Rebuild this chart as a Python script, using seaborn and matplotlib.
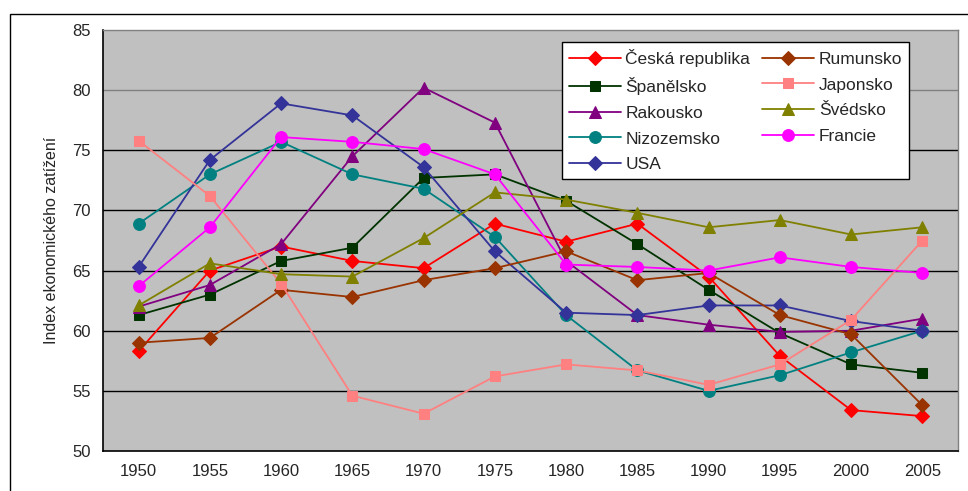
import pandas as pd
import matplotlib.pyplot as plt
import matplotlib.patches as mpatches
import seaborn as sns

sns.set_style("white")
plt.rcParams["font.family"] = ["Liberation Sans", "DejaVu Sans"]

YEARS = ["1950", "1955", "1960", "1965", "1970", "1975", "1980", "1985", "1990", "1995", "2000", "2005"]

cesko = [58.3, 65.0, 67.0, 65.8, 65.2, 68.9, 67.4, 68.9, 64.5, 57.9, 53.4, 52.9]
rumunsko = [59.0, 59.4, 63.4, 62.8, 64.2, 65.2, 66.6, 64.2, 64.8, 61.3, 59.7, 53.8]
spanelsko = [61.3, 63.0, 65.8, 66.9, 72.7, 73.0, 70.8, 67.2, 63.4, 59.8, 57.2, 56.5]
japonsko = [75.8, 71.2, 63.9, 54.6, 53.1, 56.2, 57.2, 56.7, 55.5, 57.2, 60.9, 67.5]
rakousko = [62.0, 63.8, 67.2, 74.5, 80.2, 77.3, 65.8, 61.3, 60.5, 59.9, 60.0, 61.0]
svedsko = [62.1, 65.6, 64.7, 64.5, 67.7, 71.5, 70.9, 69.8, 68.6, 69.2, 68.0, 68.6]
nizozemsko = [68.9, 73.0, 75.7, 73.0, 71.8, 67.8, 61.3, 56.7, 55.0, 56.3, 58.2, 60.0]
francie = [63.7, 68.6, 76.1, 75.7, 75.1, 73.0, 65.5, 65.3, 65.0, 66.1, 65.3, 64.8]
usa = [65.3, 74.2, 78.9, 77.9, 73.6, 66.6, 61.5, 61.3, 62.1, 62.1, 60.8, 60.0]

SERIES = {
    "Česká republika": cesko,
    "Rumunsko": rumunsko,
    "Španělsko": spanelsko,
    "Japonsko": japonsko,
    "Rakousko": rakousko,
    "Švédsko": svedsko,
    "Nizozemsko": nizozemsko,
    "Francie": francie,
    "USA": usa,
}

# drawing order and legend order (matplotlib fills legend columns top-down)
DRAW_ORDER = ["Česká republika", "Španělsko", "Rakousko", "Nizozemsko", "USA",
              "Rumunsko", "Japonsko", "Švédsko", "Francie"]

STYLE = {
    "Česká republika": ("#FF0000", "D", 7),
    "Rumunsko": ("#993300", "D", 7),
    "Španělsko": ("#003300", "s", 7.5),
    "Japonsko": ("#FF8080", "s", 7.5),
    "Rakousko": ("#800080", "^", 8.5),
    "Švédsko": ("#808000", "^", 8.5),
    "Nizozemsko": ("#008080", "o", 8.5),
    "Francie": ("#FF00FF", "o", 8.5),
    "USA": ("#333399", "D", 7),
}

rows = []
for name, vals in SERIES.items():
    for i, v in enumerate(vals):
        rows.append({"country": name, "pos": i, "value": v})
df = pd.DataFrame(rows)

fig = plt.figure(figsize=(9.68, 4.91), dpi=100, facecolor="white")
# outer chart frame (cropped at right and bottom)
fig.patches.append(mpatches.Rectangle((10 / 968, -0.1), 1.0, 1 - 14 / 491 + 0.1,
                                      transform=fig.transFigure, fill=False,
                                      edgecolor="black", linewidth=1.0))

ax = fig.add_axes([103 / 968, 1 - 451 / 491, 855 / 968, 421 / 491])
ax.set_facecolor("#C0C0C0")

for y in [55, 60, 65, 70, 75, 80]:
    ax.axhline(y, color="#808080" if y == 80 else "black", linewidth=1.0, zorder=1)

for name in DRAW_ORDER:
    color, marker, ms = STYLE[name]
    sub = df[df["country"] == name]
    sns.lineplot(data=sub, x="pos", y="value", ax=ax, color=color, marker=marker,
                 markersize=ms, markeredgecolor=color, linewidth=1.3,
                 label=name, zorder=3)

ax.set_xlim(-0.5, 11.5)
ax.set_ylim(50, 85)
ax.set_yticks(range(50, 90, 5))
ax.set_xticks(range(len(YEARS)))
ax.set_xticklabels(YEARS)
ax.set_xticks([i - 0.5 for i in range(len(YEARS) + 1)], minor=True)
ax.tick_params(axis="x", which="major", length=0, pad=9, labelsize=12)
ax.tick_params(axis="x", which="minor", length=6, width=1, direction="out", color="black")
ax.tick_params(axis="y", length=6, width=1, direction="out", color="black", labelsize=12, pad=3)
ax.set_xlabel("")
ax.set_ylabel("Index ekonomického zatížení", fontsize=11.5, labelpad=9)

for side in ["left", "bottom"]:
    ax.spines[side].set_color("black")
    ax.spines[side].set_linewidth(1.2)
for side in ["top", "right"]:
    ax.spines[side].set_color("#808080")
    ax.spines[side].set_linewidth(1.0)

handles, labels = ax.get_legend_handles_labels()
hmap = dict(zip(labels, handles))
leg = ax.legend([hmap[n] for n in DRAW_ORDER], DRAW_ORDER, ncol=2,
                loc="upper left", bbox_to_anchor=((562 - 103) / 855, 1 - (42 - 30) / 421),
                borderaxespad=0, frameon=True, fancybox=False, framealpha=1,
                edgecolor="black", fontsize=12.5, handlelength=3.0, handletextpad=0.25,
                columnspacing=0.7, labelspacing=0.6, borderpad=0.4)
leg.get_frame().set_linewidth(1.0)
leg.set_zorder(5)

plt.savefig("out.png", dpi=100, facecolor="white")
plt.close()
